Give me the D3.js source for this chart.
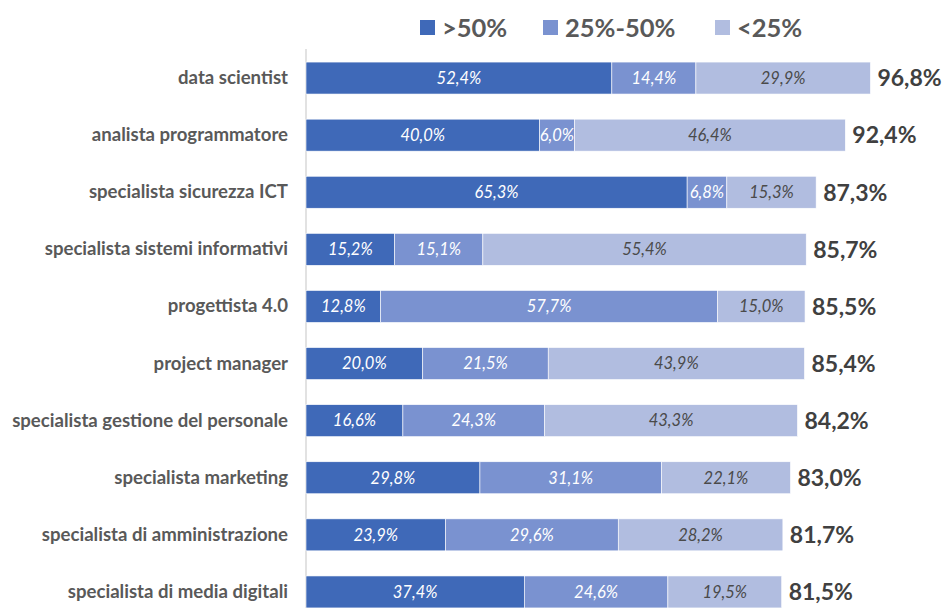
<!DOCTYPE html>
<html>
<head>
<meta charset="utf-8">
<script src="https://cdn.jsdelivr.net/npm/d3@7"></script>
<style>
  html, body { margin: 0; padding: 0; background: #fff; }
  svg { display: block; font-family: Lato, "Open Sans", sans-serif; }
</style>
</head>
<body>
<svg id="chart" width="946" height="608"></svg>
<script>
const categories = [
  "data scientist",
  "analista programmatore",
  "specialista sicurezza ICT",
  "specialista sistemi informativi",
  "progettista 4.0",
  "project manager",
  "specialista gestione del personale",
  "specialista marketing",
  "specialista di amministrazione",
  "specialista di media digitali"
];
const seriesNames = [">50%", "25%-50%", "<25%"];
const over50 = [52.4, 40.0, 65.3, 15.2, 12.8, 20.0, 16.6, 29.8, 23.9, 37.4];
const from25to50 = [14.4, 6.0, 6.8, 15.1, 57.7, 21.5, 24.3, 31.1, 29.6, 24.6];
const under25 = [29.9, 46.4, 15.3, 55.4, 15.0, 43.9, 43.3, 22.1, 28.2, 19.5];
const totals = [96.8, 92.4, 87.3, 85.7, 85.5, 85.4, 84.2, 83.0, 81.7, 81.5];

const colors = ["#3f69b8", "#7a92d0", "#b1bde0"];
const labelColors = ["#ffffff", "#ffffff", "#4a4a4a"];

const svg = d3.select("#chart");
const x0 = 306;
const x = d3.scaleLinear().domain([0, 96.8]).range([x0, 871]);
const y = d3.scaleBand().domain(categories).range([49.5, 620.5])
  .paddingInner(0.44).paddingOuter(0.22);

const fmt = v => d3.format(".1f")(v).replace(".", ",") + "%";

const rows = categories.map((c, i) => ({ cat: c, vals: [over50[i], from25to50[i], under25[i]], total: totals[i] }));
const stackData = rows.map(r => ({ cat: r.cat, s0: r.vals[0], s1: r.vals[1], s2: r.vals[2] }));
const stack = d3.stack().keys(["s0", "s1", "s2"])(stackData);

// axis line
svg.append("line")
  .attr("x1", x0).attr("x2", x0)
  .attr("y1", 49).attr("y2", 608)
  .attr("stroke", "#d9d9d9").attr("stroke-width", 1.5);

// bars
const layers = svg.append("g").selectAll("g").data(stack).join("g")
  .attr("fill", (d, i) => colors[i]);
layers.selectAll("rect").data(d => d).join("rect")
  .attr("x", d => x(d[0]))
  .attr("y", d => y(d.data.cat))
  .attr("width", d => x(d[1]) - x(d[0]))
  .attr("height", y.bandwidth())
  .attr("stroke", "#ffffff").attr("stroke-width", 0.6);

// segment labels
stack.forEach((layer, li) => {
  svg.append("g").selectAll("text").data(layer).join("text")
    .attr("x", d => (x(d[0]) + x(d[1])) / 2)
    .attr("y", d => y(d.data.cat) + y.bandwidth() / 2)
    .attr("dy", "0.35em")
    .attr("text-anchor", "middle")
    .attr("font-style", "italic")
    .attr("font-size", 16.5)
    .attr("fill", labelColors[li])
    .text(d => fmt(d[1] - d[0]));
});

// totals
svg.append("g").selectAll("text").data(rows).join("text")
  .attr("x", d => x(d.vals[0] + d.vals[1] + d.vals[2]) + 7)
  .attr("y", d => y(d.cat) + y.bandwidth() / 2)
  .attr("dy", "0.36em")
  .attr("font-weight", "bold")
  .attr("font-size", 23)
  .attr("fill", "#404040")
  .text(d => fmt(d.total));

// category labels
const yAxis = svg.append("g").attr("transform", `translate(${x0 - 18},0)`)
  .call(d3.axisLeft(y).tickSize(0).tickPadding(0));
yAxis.select(".domain").remove();
yAxis.selectAll("text")
  .attr("font-family", "Lato, 'Open Sans', sans-serif")
  .attr("font-size", 18.6)
  .attr("font-weight", "bold")
  .attr("fill", "#595959");

// legend
const legendX = [420, 543, 715];
const legend = svg.append("g").selectAll("g").data(seriesNames).join("g")
  .attr("transform", (d, i) => `translate(${legendX[i]},20)`);
legend.append("rect").attr("width", 15).attr("height", 15)
  .attr("fill", (d, i) => colors[i]);
legend.append("text").attr("x", 22).attr("y", 7.5).attr("dy", "0.36em")
  .attr("font-size", 25.5).attr("font-weight", "bold").attr("fill", "#595959")
  .text(d => d);
</script>
</body>
</html>
